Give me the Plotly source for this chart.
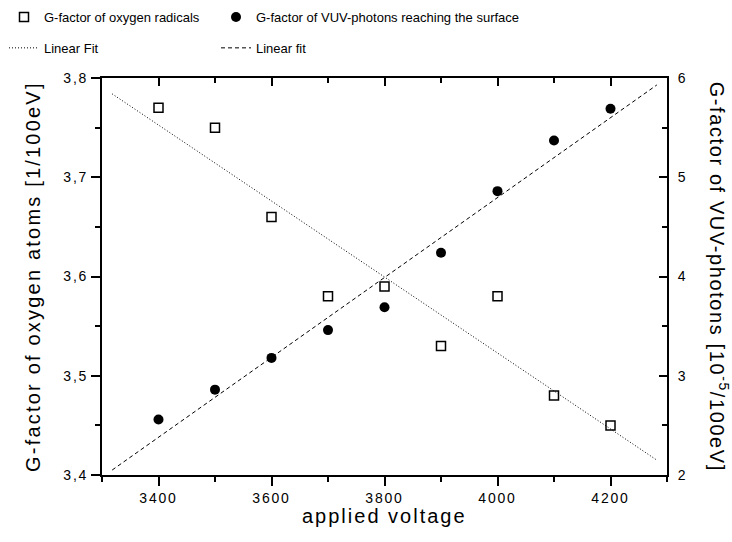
import plotly.graph_objects as go

# ---- data ----
voltage = [3400, 3500, 3600, 3700, 3800, 3900, 4000, 4100, 4200]
g_oxygen = [3.77, 3.75, 3.66, 3.58, 3.59, 3.53, 3.58, 3.48, 3.45]
g_vuv = [2.56, 2.86, 3.18, 3.46, 3.69, 4.24, 4.86, 5.37, 5.69]

fit_x = [3318, 4282]
fit_oxygen = [3.784, 3.415]
fit_vuv = [2.05, 5.93]

FONT = "Liberation Sans, Arial, sans-serif"

fig = go.Figure()

fig.add_trace(go.Scatter(
    x=voltage, y=g_oxygen, mode="markers", name="G-factor of oxygen radicals",
    marker=dict(symbol="square-open", size=9, color="black", line=dict(width=1.5, color="black")),
    legend="legend", legendgroup="a", xaxis="x", yaxis="y"))
fig.add_trace(go.Scatter(
    x=fit_x, y=fit_oxygen, mode="lines", name="Linear Fit",
    line=dict(color="black", width=1, dash="1px,2px"),
    legend="legend", legendgroup="b", xaxis="x2", yaxis="y"))
fig.add_trace(go.Scatter(
    x=voltage, y=g_vuv, mode="markers", name="G-factor of VUV-photons reaching the surface",
    marker=dict(symbol="circle", size=10, color="black"),
    legend="legend2", legendgroup="c", xaxis="x", yaxis="y2"))
fig.add_trace(go.Scatter(
    x=fit_x, y=fit_vuv, mode="lines", name="Linear fit",
    line=dict(color="black", width=1, dash="4px,3px"),
    legend="legend2", legendgroup="d", xaxis="x", yaxis="y2"))

axis_common = dict(showgrid=False, zeroline=False, showline=True, linecolor="black",
                   linewidth=2, tickcolor="black", tickwidth=2)

fig.update_layout(
    template="simple_white",
    width=732, height=542,
    margin=dict(l=102, r=65, t=78, b=67, autoexpand=False),
    paper_bgcolor="white", plot_bgcolor="white",
    separators=",.",
    font=dict(family=FONT, color="black", size=14),
    xaxis=dict(range=[3300, 4300], tickmode="linear", tick0=3400, dtick=200,
               ticks="outside", ticklen=9,
               minor=dict(dtick=100, tick0=3300, ticklen=5, ticks="outside",
                          tickcolor="black", tickwidth=2),
               tickfont=dict(size=14), **axis_common),
    xaxis2=dict(range=[3300, 4300], overlaying="x", side="top", anchor="y",
                tickmode="linear", tick0=3400, dtick=200,
                ticks="inside", ticklen=8, showticklabels=False,
                minor=dict(dtick=100, tick0=3300, ticklen=5, ticks="inside",
                           tickcolor="black", tickwidth=2),
                **axis_common),
    yaxis=dict(range=[3.4, 3.8], tickmode="linear", tick0=3.4, dtick=0.1, tickformat=".1f",
               ticks="outside", ticklen=9,
               minor=dict(dtick=0.05, ticklen=5, ticks="outside", tickcolor="black", tickwidth=2),
               tickfont=dict(size=14), **axis_common),
    yaxis2=dict(range=[2, 6], tickmode="linear", tick0=2, dtick=1,
                overlaying="y", side="right", anchor="x",
                ticks="inside", ticklen=8, ticklabelstandoff=6,
                minor=dict(dtick=0.5, ticklen=5, ticks="inside", tickcolor="black", tickwidth=2),
                tickfont=dict(size=14), **axis_common),
    showlegend=True,
    legend=dict(x=4 / 732, y=1 - 2 / 542, xref="container", yref="container", xanchor="left",
                yanchor="top", orientation="v", tracegroupgap=11, font=dict(size=13),
                bgcolor="rgba(0,0,0,0)"),
    legend2=dict(x=216 / 732, y=1 - 2 / 542, xref="container", yref="container", xanchor="left",
                 yanchor="top", orientation="v", tracegroupgap=11, font=dict(size=13),
                 bgcolor="rgba(0,0,0,0)"),
    annotations=[
        dict(text="applied voltage", x=0.5, y=-(516 - 475) / 397, xref="paper", yref="paper",
             xanchor="center", yanchor="middle", showarrow=False, font=dict(size=20)),
        dict(text="G-factor of oxygen atoms [1/100eV]", x=(32 - 102) / 565, y=0.5, xref="paper",
             yref="paper", xanchor="center", yanchor="middle", showarrow=False, textangle=-90,
             font=dict(size=20)),
        dict(text="G-factor of VUV-photons [10<sup>-5</sup>/100eV]", x=(719 - 102) / 565, y=0.5,
             xref="paper", yref="paper", xanchor="center", yanchor="middle", showarrow=False,
             textangle=90, font=dict(size=20)),
    ],
)

# wider letter spacing as in the reference typography
post_js = """
var gd = document.getElementById('{plot_id}');
function spaceText(){
  gd.querySelectorAll('.xtick text, .ytick text, .y2tick text').forEach(function(t){ t.style.letterSpacing = '1.8px'; });
  var spacing = ['2px', '2.2px', '1.6px'];
  gd.querySelectorAll('.annotation-text').forEach(function(t, i){ t.style.letterSpacing = spacing[i] || '2px'; });
}
spaceText();
"""

fig.write_html("out.html", post_script=post_js)
